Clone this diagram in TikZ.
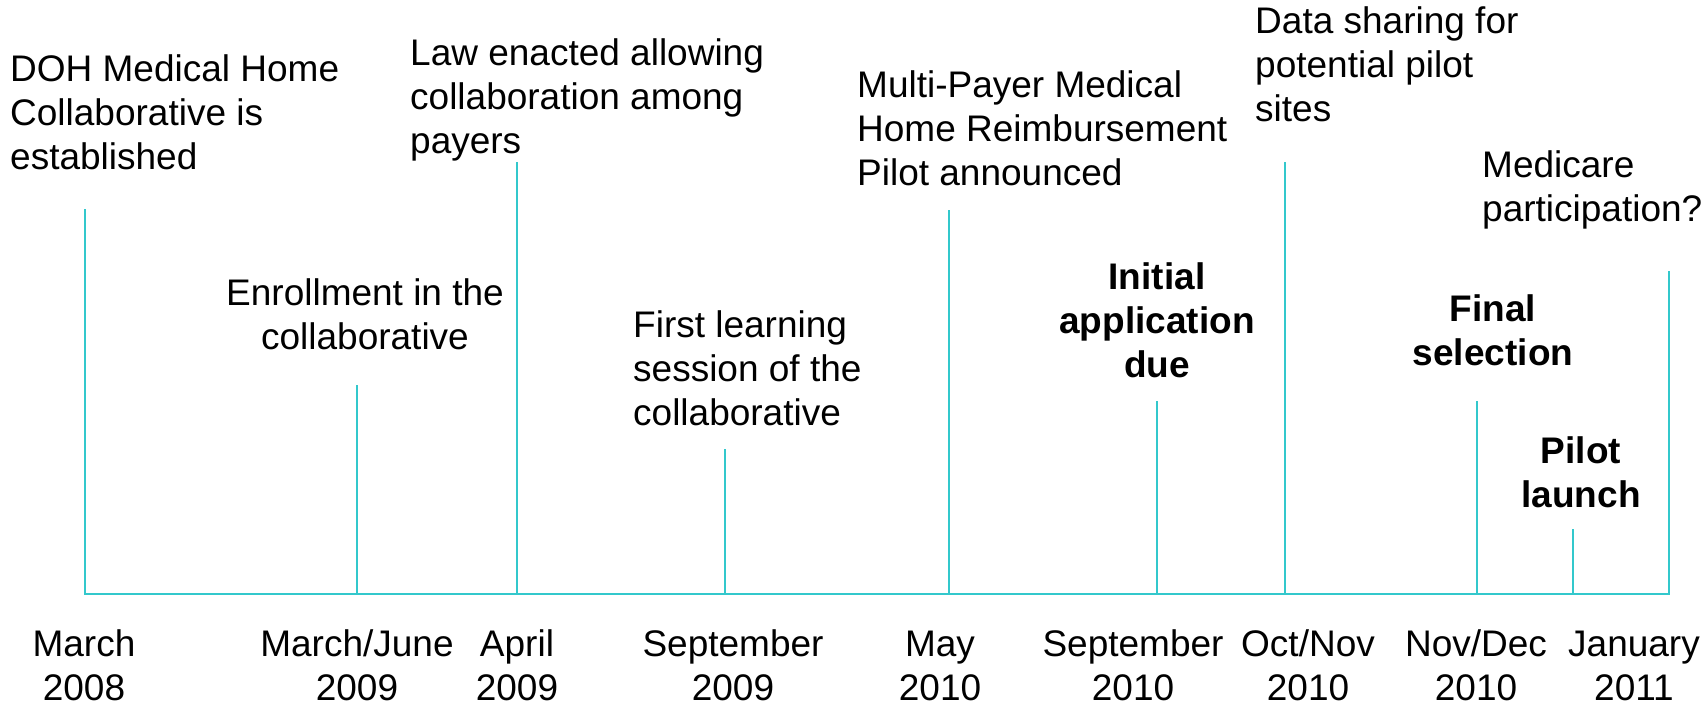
\documentclass[tikz,border=0pt]{standalone}
\usepackage{fontspec}
\setmainfont{Liberation Sans}
\definecolor{linecyan}{RGB}{51,200,204}

\begin{document}
\begin{tikzpicture}[x=1pt,y=-1pt]
\tikzstyle{event} = [inner sep=0pt, align=left, anchor=base west, font=\fontsize{37}{44}\selectfont]
\tikzstyle{keyevent} = [inner sep=0pt, align=center, anchor=base, font=\fontsize{37}{44}\selectfont\bfseries]
\tikzstyle{centred} = [inner sep=0pt, align=center, anchor=base, font=\fontsize{37}{44}\selectfont]
\tikzstyle{tick} = [draw=linecyan, line width=2.6pt, line cap=rect]
\useasboundingbox (0,0) rectangle (1705,707);
% timeline
\coordinate (start) at (85,594);
\coordinate (end) at (1669,594);
\draw[tick] (start)--(end);
\coordinate (mar08) at (85,594);    \coordinate (mar08top) at (85,210);
\coordinate (jun09) at (357,594);   \coordinate (jun09top) at (357,386);
\coordinate (apr09) at (517,594);   \coordinate (apr09top) at (517,163);
\coordinate (sep09) at (725,594);   \coordinate (sep09top) at (725,450);
\coordinate (may10) at (949,594);   \coordinate (may10top) at (949,211);
\coordinate (sep10) at (1157,594);  \coordinate (sep10top) at (1157,402);
\coordinate (nov10) at (1285,594);  \coordinate (nov10top) at (1285,163);
\coordinate (dec10) at (1477,594);  \coordinate (dec10top) at (1477,402);
\coordinate (pilot) at (1573,594);  \coordinate (pilottop) at (1573,530);
\coordinate (jan11) at (1669,594);  \coordinate (jan11top) at (1669,272);
\draw[tick] (mar08)--(mar08top);
\draw[tick] (jun09)--(jun09top);
\draw[tick] (apr09)--(apr09top);
\draw[tick] (sep09)--(sep09top);
\draw[tick] (may10)--(may10top);
\draw[tick] (sep10)--(sep10top);
\draw[tick] (nov10)--(nov10top);
\draw[tick] (dec10)--(dec10top);
\draw[tick] (pilot)--(pilottop);
\draw[tick] (jan11)--(jan11top);
% events (anchored on the baseline of their last line)
\node[event] (doh) at (10,169) {DOH Medical Home\\Collaborative is\\established};
\node[event] (law) at (410,153) {Law enacted allowing\\collaboration among\\payers};
\node[centred] (enrol) at (365,349) {Enrollment in the\\collaborative};
\node[event] (learn) at (633,425) {First learning\\session of the\\collaborative};
\node[event] (multi) at (857,185) {Multi-Payer Medical\\Home Reimbursement\\Pilot announced};
\node[keyevent] (initial) at (1157,377) {Initial\\application\\due};
\node[event] (data) at (1255,121) {Data sharing for\\potential pilot\\sites};
\node[event] (medicare) at (1482,221) {Medicare\\participation?};
\node[keyevent] (final) at (1493,365) {Final\\selection};
\node[keyevent] (launch) at (1581,507) {Pilot\\launch};
% dates
\node[centred] (d1) at (84,700) {March\\2008};
\node[centred] (d2) at (357,700) {March/June\\2009};
\node[centred] (d3) at (517,700) {April\\2009};
\node[centred] (d4) at (733,700) {September\\2009};
\node[centred] (d5) at (940,700) {May\\2010};
\node[centred] (d6) at (1133,700) {September\\2010};
\node[centred] (d7) at (1308,700) {Oct/Nov\\2010};
\node[centred] (d8) at (1476,700) {Nov/Dec\\2010};
\node[centred] (d9) at (1634,700) {January\\2011};
\end{tikzpicture}
\end{document}
